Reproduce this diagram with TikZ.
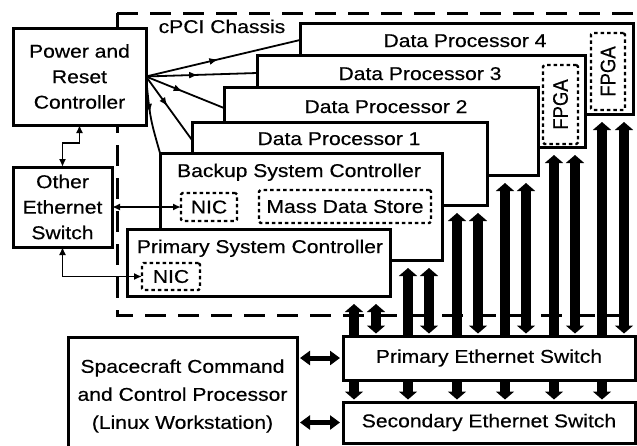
\documentclass[tikz,border=0pt]{standalone}
\usepackage{fontspec}
\setmainfont{Liberation Sans}[FakeBold=0.4]
\usepackage{graphicx}
\usetikzlibrary{arrows.meta,decorations.markings,calc}
\pgfdeclarelayer{bg}
\pgfsetlayers{bg,main}
\newcommand{\mystretchx}[1]{\scalebox{1.14}[1]{#1}}
\newcommand{\mystretchy}[1]{\scalebox{1}[1.14]{#1}}
\tikzset{
  box/.style={draw, line width=3pt, fill=white, rectangle, inner sep=0pt, outer sep=0pt, align=center},
  dotbox/.style={draw, line width=2.4pt, dash pattern=on 3.5pt off 3pt, rounded corners=1.5pt, fill=white, rectangle, inner sep=0pt, outer sep=0pt},
  lbl/.style={inner sep=0pt, anchor=base},
  chassis/.style={line width=3pt, dash pattern=on 21pt off 12pt},
  ctl/.style={line width=1.8pt, {Latex[length=8pt,width=7pt]}-{Latex[length=8pt,width=7pt]}},
  fan/.style={line width=1.8pt, postaction={decorate}, decoration={markings, mark=at position 0.47 with {\arrow{Latex[length=9pt,width=7pt]}}}},
  bus/.style={line width=10.5pt, {Triangle[length=8pt,width=18pt]}-{Triangle[length=8pt,width=18pt]}, shorten >=2.5pt},
  fat/.style={line width=5pt, {Triangle[length=10pt,width=14pt]}-{Triangle[length=10pt,width=14pt]}, shorten <=3pt, shorten >=3pt},
}
\begin{document}
\begin{tikzpicture}[x=1pt, y=-1pt, font=\fontsize{18.5}{25.5}\selectfont]
\useasboundingbox (0,0) rectangle (637,445);
% chassis outline
\begin{pgfonlayer}{bg}
\draw[chassis] (117,13) -- (640,13);
\draw[chassis] (117,13) -- (117,315) -- (640,315);
\end{pgfonlayer}
\node[lbl] (chl) at (222,33) {\mystretchx{cPCI Chassis}};
% power and other switch
\node[box, minimum width=133pt, minimum height=97pt] (pwr) at (79.5,76.5) {\mystretchx{Power and}\\\mystretchx{Reset}\\\mystretchx{Controller}};
\node[box, minimum width=99pt, minimum height=80pt] (oth) at (62.5,207) {\mystretchx{Other}\\\mystretchx{Ethernet}\\\mystretchx{Switch}};
% boards back to front
\node[box, minimum width=333pt, minimum height=91pt] (dp4) at (466.5,68.5) {};
\node[lbl] (dp4t) at (465,47) {\mystretchx{Data Processor 4}};
\node[dotbox, minimum width=34pt, minimum height=77pt] (fp4) at (608,71.5) {\rotatebox{90}{\mystretchy{FPGA}}};
\node[box, minimum width=328pt, minimum height=92pt] (dp3) at (421,101) {};
\node[lbl] (dp3t) at (420,80) {\mystretchx{Data Processor 3}};
\node[dotbox, minimum width=35pt, minimum height=79pt] (fp3) at (560.5,104.5) {\rotatebox{90}{\mystretchy{FPGA}}};
\node[box, minimum width=314pt, minimum height=88pt] (dp2) at (381,131) {};
\node[lbl] (dp2t) at (386,113) {\mystretchx{Data Processor 2}};
\node[box, minimum width=295pt, minimum height=83pt] (dp1) at (339.5,163.5) {};
\node[lbl] (dp1t) at (339,145) {\mystretchx{Data Processor 1}};
\node[box, minimum width=282pt, minimum height=107pt] (bkp) at (301,206.5) {};
\node[lbl] (bkpt) at (299,177) {\mystretchx{Backup System Controller}};
\node[dotbox, minimum width=56pt, minimum height=28pt] (bnic) at (209,207) {\mystretchx{NIC}};
\node[dotbox, minimum width=172pt, minimum height=33pt] (mds) at (345,206.5) {\mystretchx{Mass Data Store}};
\node[box, minimum width=263pt, minimum height=67pt] (psc) at (258.5,262.5) {};
\node[lbl] (psct) at (260,253) {\mystretchx{Primary System Controller}};
\node[dotbox, minimum width=58pt, minimum height=27pt] (pnic) at (171,276.5) {\mystretchx{NIC}};
% switches and spacecraft processor
\node[box, minimum width=292pt, minimum height=44pt] (psw) at (489,358) {\mystretchx{Primary Ethernet Switch}};
\node[box, minimum width=292pt, minimum height=41pt] (ssw) at (489,422.5) {\mystretchx{Secondary Ethernet Switch}};
\node[box, minimum width=229pt, minimum height=118pt, font=\fontsize{18.5}{28}\selectfont] (sc) at (182.5,396) {\mystretchx{Spacecraft Command}\\\mystretchx{and Control Processor}\\\mystretchx{(Linux Workstation)}};
% control connectors
\draw[ctl] (pwr.south) -- ++(0,18) -| (oth.north);
\draw[ctl] (oth.east) -- (bnic.west);
\draw[ctl] (oth.south) |- (pnic.west);
\draw[fan] (pwr.east) -- ($(dp4.north west)+(0,17)$);
\draw[fan] (pwr.east) -- ($(dp3.north west)+(0,18)$);
\draw[fan] (pwr.east) -- ($(dp2.north west)+(0,21)$);
\draw[fan] (pwr.east) -- ($(dp1.north west)+(0,18)$);
\draw[fan] (pwr.east) .. controls (150,118) .. (bkp.north west);
% ethernet buses
\begin{pgfonlayer}{bg}
\foreach \b/\l/\r in {psc/354/376, bkp/408/429, dp1/457/478, dp2/505/526, dp3/554/575, dp4/602/624} {
  \path (\b.south) ++(0,8) coordinate (tp);
  \coordinate (xl) at (\l,0);
  \coordinate (xr) at (\r,0);
  \draw[bus] (tp -| xl) -- (xl |- ssw.north);
  \draw[bus] (tp -| xr) -- (xr |- psw.north);
}
\end{pgfonlayer}
\draw[fat] (sc.east |- psw.west) -- (psw.west);
\draw[fat] (sc.east |- ssw.west) -- (ssw.west);
\end{tikzpicture}
\end{document}
